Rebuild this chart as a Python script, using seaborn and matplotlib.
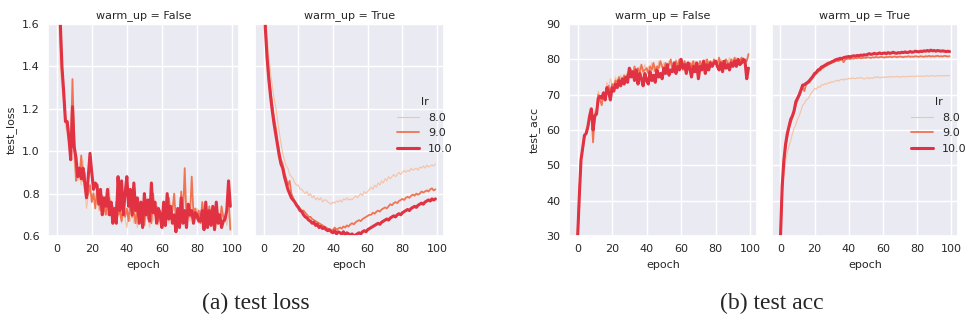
import numpy as np
import pandas as pd
import seaborn as sns
import matplotlib.pyplot as plt

# learning rates and warm-up settings
lrs = [8.0, 9.0, 10.0]
warm_ups = [False, True]
epochs = list(range(100))

# test loss, warm_up = False
loss_nowarm_8 = [2.0, 1.7, 1.40, 1.30, 1.22, 1.12, 1.08, 1.03, 0.98, 1.10, 0.95, 0.87, 0.86, 0.89, 0.84, 0.96, 0.84, 0.73, 0.79, 0.82,
                 0.78, 0.81, 0.74, 0.78, 0.72, 0.80, 0.75, 0.71, 0.77, 0.73, 0.83, 0.70, 0.74, 0.68, 0.73, 0.69, 0.71, 0.66, 0.72, 0.68,
                 0.64, 0.70, 0.67, 0.72, 0.66, 0.69, 0.64, 0.71, 0.67, 0.70, 0.66, 0.72, 0.68, 0.64, 0.70, 0.67, 0.73, 0.68, 0.65, 0.69,
                 0.67, 0.71, 0.64, 0.69, 0.66, 0.74, 0.68, 0.65, 0.70, 0.66, 0.71, 0.67, 0.74, 0.68, 0.65, 0.70, 0.67, 0.72, 0.66, 0.69,
                 0.73, 0.66, 0.70, 0.64, 0.69, 0.67, 0.71, 0.65, 0.70, 0.66, 0.69, 0.64, 0.70, 0.67, 0.72, 0.66, 0.69, 0.65, 0.70, 0.67]
loss_nowarm_9 = [2.1, 1.8, 1.55, 1.38, 1.27, 1.15, 1.12, 1.05, 1.00, 1.34, 1.05, 0.86, 0.90, 0.88, 0.98, 0.86, 0.90, 0.78, 0.80, 0.84,
                 0.76, 0.80, 0.73, 0.82, 0.77, 0.72, 0.79, 0.74, 0.70, 0.77, 0.78, 0.70, 0.74, 0.68, 0.76, 0.70, 0.72, 0.67, 0.74, 0.69,
                 0.73, 0.67, 0.77, 0.69, 0.72, 0.66, 0.74, 0.70, 0.68, 0.72, 0.65, 0.75, 0.68, 0.71, 0.66, 0.80, 0.70, 0.74, 0.67, 0.72,
                 0.70, 0.65, 0.74, 0.68, 0.78, 0.69, 0.72, 0.80, 0.67, 0.72, 0.66, 0.81, 0.70, 0.92, 0.68, 0.74, 0.69, 0.88, 0.70, 0.73,
                 0.68, 0.72, 0.66, 0.76, 0.69, 0.71, 0.65, 0.74, 0.68, 0.72, 0.66, 0.73, 0.70, 0.66, 0.74, 0.69, 0.67, 0.73, 0.78, 0.63]
loss_nowarm_10 = [2.2, 1.85, 1.62, 1.40, 1.28, 1.14, 1.14, 1.06, 0.96, 1.21, 1.02, 0.97, 0.88, 0.92, 0.87, 0.92, 0.85, 0.78, 0.88, 0.99,
                  0.90, 0.82, 0.85, 0.84, 0.75, 0.82, 0.70, 0.78, 0.74, 0.82, 0.70, 0.76, 0.66, 0.73, 0.66, 0.88, 0.72, 0.86, 0.70, 0.80,
                  0.88, 0.74, 0.82, 0.70, 0.85, 0.72, 0.78, 0.66, 0.76, 0.64, 0.80, 0.70, 0.77, 0.67, 0.85, 0.71, 0.76, 0.66, 0.73, 0.70,
                  0.64, 0.76, 0.65, 0.80, 0.68, 0.74, 0.66, 0.70, 0.62, 0.73, 0.64, 0.78, 0.66, 0.72, 0.64, 0.75, 0.70, 0.72, 0.66, 0.71,
                  0.70, 0.67, 0.67, 0.72, 0.63, 0.76, 0.64, 0.72, 0.65, 0.74, 0.63, 0.76, 0.66, 0.70, 0.64, 0.67, 0.68, 0.72, 0.86, 0.74]

# test loss, warm_up = True
loss_warm_8 = [1.95, 1.68, 1.55, 1.45, 1.37, 1.31, 1.25, 1.21, 1.15, 1.09, 1.04, 0.99, 0.96, 0.93, 0.92, 0.89, 0.88, 0.87, 0.85, 0.84,
               0.84, 0.82, 0.82, 0.81, 0.80, 0.81, 0.79, 0.80, 0.78, 0.79, 0.77, 0.78, 0.77, 0.78, 0.76, 0.77, 0.77, 0.76, 0.755, 0.75,
               0.76, 0.755, 0.765, 0.76, 0.77, 0.76, 0.775, 0.77, 0.78, 0.77, 0.775, 0.77, 0.78, 0.79, 0.78, 0.79, 0.80, 0.79, 0.81, 0.80,
               0.81, 0.82, 0.83, 0.82, 0.84, 0.83, 0.85, 0.84, 0.86, 0.85, 0.87, 0.86, 0.88, 0.87, 0.88, 0.89, 0.88, 0.89, 0.90, 0.89,
               0.90, 0.91, 0.90, 0.91, 0.905, 0.92, 0.91, 0.915, 0.92, 0.91, 0.925, 0.92, 0.93, 0.92, 0.935, 0.925, 0.93, 0.935, 0.93, 0.94]
loss_warm_9 = [1.9, 1.6, 1.47, 1.37, 1.29, 1.22, 1.16, 1.11, 1.05, 1.00, 0.96, 0.94, 0.90, 0.87, 0.84, 0.86, 0.80, 0.78, 0.76, 0.75,
               0.74, 0.73, 0.72, 0.72, 0.71, 0.70, 0.69, 0.69, 0.68, 0.675, 0.67, 0.665, 0.66, 0.655, 0.65, 0.645, 0.64, 0.635, 0.63, 0.625,
               0.63, 0.64, 0.63, 0.635, 0.64, 0.635, 0.645, 0.64, 0.65, 0.645, 0.655, 0.66, 0.655, 0.665, 0.67, 0.675, 0.67, 0.68, 0.685, 0.69,
               0.695, 0.70, 0.70, 0.71, 0.705, 0.715, 0.72, 0.715, 0.725, 0.73, 0.735, 0.73, 0.74, 0.75, 0.745, 0.755, 0.76, 0.755, 0.765, 0.77,
               0.775, 0.77, 0.78, 0.785, 0.78, 0.79, 0.795, 0.79, 0.80, 0.795, 0.80, 0.81, 0.805, 0.81, 0.815, 0.81, 0.82, 0.825, 0.815, 0.82]
loss_warm_10 = [1.9, 1.58, 1.44, 1.34, 1.26, 1.19, 1.13, 1.08, 1.03, 0.98, 0.94, 0.92, 0.88, 0.85, 0.82, 0.80, 0.78, 0.77, 0.76, 0.745,
                0.735, 0.72, 0.715, 0.70, 0.69, 0.685, 0.675, 0.67, 0.66, 0.665, 0.65, 0.655, 0.64, 0.645, 0.635, 0.64, 0.63, 0.625, 0.63, 0.62,
                0.615, 0.625, 0.61, 0.62, 0.615, 0.61, 0.62, 0.605, 0.615, 0.61, 0.605, 0.61, 0.60, 0.605, 0.61, 0.615, 0.61, 0.62, 0.625, 0.62,
                0.63, 0.635, 0.64, 0.645, 0.65, 0.655, 0.66, 0.655, 0.665, 0.67, 0.675, 0.68, 0.675, 0.685, 0.69, 0.695, 0.69, 0.70, 0.705, 0.70,
                0.71, 0.715, 0.72, 0.725, 0.72, 0.73, 0.735, 0.74, 0.735, 0.745, 0.75, 0.755, 0.75, 0.76, 0.765, 0.77, 0.765, 0.775, 0.77, 0.775]

# test acc, warm_up = False
acc_nowarm_8 = [30.5, 43, 50.5, 55.5, 57.5, 60, 62, 63, 64, 62, 65.5, 66, 71, 69.5, 68.5, 71, 70, 73.5, 72, 74.5,
                73, 72.5, 75, 73.5, 72, 75.5, 74, 75, 73.5, 76.5, 75, 77.5, 76, 74.5, 77, 76.5, 78, 75.5, 77, 78.5,
                76.5, 78, 77.5, 79, 76.5, 78, 77, 79.5, 78, 77.5, 79, 78, 77, 79.5, 78, 79, 77.5, 80, 78.5, 79,
                78, 79.5, 77.5, 79, 78.5, 77, 79, 78, 79.5, 78, 79, 77.5, 79, 78.5, 80, 78, 79.5, 78.5, 79, 80,
                78.5, 79.5, 78, 80, 79, 78.5, 80, 79, 80.5, 79, 80, 79, 80.5, 79.5, 80, 79, 80.5, 79.5, 80, 80.5]
acc_nowarm_9 = [30, 42, 52, 54.5, 58, 59.5, 60.5, 63.5, 65, 56.5, 64.5, 65, 70, 68.5, 67, 70, 69.5, 71.5, 72.5, 70,
                73, 72.5, 74, 73.5, 75, 73, 74, 75.5, 74, 76, 76, 77, 75.5, 78, 76, 77.5, 76, 78.5, 76.5, 77,
                77.5, 76, 78, 77, 79, 76.5, 78, 77.5, 79.5, 78, 77, 79, 77.5, 78.5, 80, 77, 78.5, 79.5, 78, 80,
                78.5, 77, 79.5, 78, 77.5, 79, 78, 79.5, 77, 78.5, 78, 79.5, 77.5, 79, 78, 80, 78.5, 79.5, 78, 80,
                79, 78.5, 80.5, 78, 79.5, 78.5, 80, 79, 78.5, 80, 79, 80.5, 79, 80, 79.5, 80.5, 79, 80, 79.5, 81.5]
acc_nowarm_10 = [29, 41, 51.5, 55, 58.5, 59, 61, 64, 66, 60, 64, 64.5, 69, 69.5, 69, 70.5, 68.5, 72, 70.8, 68.5,
                 72, 71, 73, 72, 74, 72.5, 74.5, 73, 75, 73.5, 77.5, 75, 76.5, 74, 77, 73, 76, 74.5, 72.5, 76,
                 74, 73, 76.5, 74, 75.5, 73.5, 77, 75, 76, 74.5, 77.5, 76, 78.5, 75.5, 77, 76.5, 79, 76, 78, 77,
                 80, 77.5, 78.5, 76, 79, 77.5, 75, 78, 76.5, 79, 74.5, 78, 77, 79.5, 76, 78.5, 77, 79, 78, 79,
                 79.5, 78, 77, 79, 76.5, 79.5, 77.5, 78.5, 77, 79, 78, 79.5, 78, 80, 78.5, 79, 80, 79.5, 74.5, 77.5]

# test acc, warm_up = True
acc_warm_8 = [30.5, 40, 47, 51, 53.5, 55.5, 57, 59, 60.5, 61.5, 63, 64, 65.5, 67, 67.5, 68.5, 68.8, 69.5, 70.5, 71,
              71.8, 71.5, 72.3, 72, 72.8, 72.7, 73.1, 72.9, 73.4, 73.3, 73.7, 73.5, 73.9, 74.1, 73.8, 74.2, 74.4, 74.1, 74.5, 74.3,
              74.6, 74.5, 74.8, 74.6, 74.5, 74.8, 74.6, 74.9, 74.7, 74.4, 74.6, 74.9, 74.5, 74.8, 74.6, 75, 74.8, 75.1, 74.7, 74.9,
              75, 74.8, 75.1, 74.9, 75.2, 74.9, 75.1, 75, 75.2, 74.9, 75.1, 75, 75.2, 75.1, 75, 75.2, 75.1, 75.3, 75.1, 75.2,
              75.3, 75.2, 75.3, 75.1, 75.3, 75.2, 75.4, 75.2, 75.3, 75.4, 75.3, 75.2, 75.4, 75.3, 75.4, 75.3, 75.4, 75.3, 75.4, 75.4]
acc_warm_9 = [30, 43, 50.5, 55, 58, 60.5, 62, 63.5, 65, 67, 68.5, 69.5, 70.8, 72.2, 71, 72.8, 73.2, 73.5, 74.2, 74.8,
              75.5, 76, 76.5, 76.8, 77.3, 77.6, 78, 78.2, 78.5, 78.8, 79, 79.2, 79.4, 79.6, 79.5, 79.8, 79.9, 79.2, 80, 80.1,
              80.2, 80.1, 80.3, 80.2, 80.4, 80.3, 80.5, 80.3, 80.4, 80.5, 80.4, 80.6, 80.5, 80.4, 80.6, 80.5, 80.7, 80.5, 80.6, 80.7,
              80.6, 80.5, 80.7, 80.6, 80.8, 80.6, 80.7, 80.8, 80.6, 80.7, 80.8, 80.7, 80.6, 80.8, 80.7, 80.9, 80.7, 80.8, 80.7, 80.9,
              80.8, 80.7, 80.9, 80.8, 80.7, 80.9, 80.8, 81, 80.8, 80.9, 80.8, 80.9, 81, 80.8, 80.9, 80.8, 81, 80.9, 80.8, 80.9]
acc_warm_10 = [29.5, 44, 51.5, 56, 59, 61, 63, 64, 65.5, 68, 69, 70, 71.3, 72.7, 72.8, 73.2, 73.5, 74, 74.6, 75.2,
               76, 76.3, 77, 77.2, 77.8, 78, 78.3, 78.6, 78.9, 79, 79.3, 79.5, 79.8, 80, 80.1, 80.3, 80.2, 80.5, 80.6, 80.7,
               80.8, 80.7, 80.9, 81, 80.9, 81.1, 81, 81.2, 81.1, 81.3, 81.2, 81.4, 81.6, 81.4, 81.5, 81.7, 81.5, 81.6, 81.8, 81.6,
               81.7, 81.8, 81.6, 81.9, 81.7, 81.8, 82, 81.8, 81.7, 81.9, 81.8, 82, 81.9, 82.1, 81.9, 82, 82.2, 82, 82.1, 82.3,
               82.2, 82.1, 82.3, 82.2, 82.4, 82.3, 82.5, 82.3, 82.6, 82.4, 82.5, 82.3, 82.5, 82.4, 82.3, 82.4, 82.3, 82.2, 82.3, 82.2]

loss_series = {False: [loss_nowarm_8, loss_nowarm_9, loss_nowarm_10],
               True: [loss_warm_8, loss_warm_9, loss_warm_10]}
acc_series = {False: [acc_nowarm_8, acc_nowarm_9, acc_nowarm_10],
              True: [acc_warm_8, acc_warm_9, acc_warm_10]}


def build_frame():
    """Stack all series into one long dataframe."""
    rows = []
    for wu in warm_ups:
        for lr, loss, acc in zip(lrs, loss_series[wu], acc_series[wu]):
            rows.append(pd.DataFrame({"epoch": epochs, "test_loss": loss, "test_acc": acc,
                                      "lr": lr, "warm_up": wu}))
    return pd.concat(rows, ignore_index=True)


df = build_frame()

sns.set_theme(style="darkgrid")
fs = 8
plt.rcParams.update({"font.size": fs, "axes.labelsize": fs, "axes.titlesize": fs,
                     "xtick.labelsize": fs, "ytick.labelsize": fs,
                     "legend.fontsize": fs, "legend.title_fontsize": fs,
                     "xtick.major.size": 2.5, "ytick.major.size": 2.5})

palette = {8.0: "#f6c2a5", 9.0: "#f17452", 10.0: "#e03242"}
sizes = {8.0: 0.8, 9.0: 1.3, 10.0: 2.2}

W, H = 965, 323
fig = plt.figure(figsize=(W / 100, H / 100), dpi=100)


def px_axes(left, top, width, height):
    return fig.add_axes([left / W, 1 - (top + height) / H, width / W, height / H])


panels = [
    ("test_loss", (0.6, 1.6), np.arange(0.6, 1.61, 0.2), [(48, 239), (255, 444)], (387, 87)),
    ("test_acc", (30, 90), np.arange(30, 91, 10), [(569, 757), (772, 958)], (901, 87)),
]

for metric, ylim, yticks, spans, leg_px in panels:
    first = None
    for (x0, x1), wu in zip(spans, warm_ups):
        ax = px_axes(x0, 24, x1 - x0, 212)
        sub = df[df["warm_up"] == wu]
        sns.lineplot(data=sub, x="epoch", y=metric, hue="lr", size="lr",
                     palette=palette, sizes=sizes, ax=ax,
                     legend="full" if wu else False)
        ax.set_ylim(*ylim)
        ax.set_yticks(yticks)
        ax.set_xticks([0, 20, 40, 60, 80, 100])
        ax.set_title(f"warm_up = {wu}", pad=4)
        if first is None:
            first = ax
        else:
            ax.set_ylabel("")
            ax.tick_params(labelleft=False)
        if wu:
            sns.move_legend(ax, "upper left", bbox_to_anchor=(leg_px[0] / W, 1 - leg_px[1] / H),
                            bbox_transform=fig.transFigure, frameon=False, title="lr")

fig.text(256 / W, 1 - 303 / H, "(a) test loss", ha="center", va="center",
         family="Liberation Serif", fontsize=17)
fig.text(772 / W, 1 - 303 / H, "(b) test acc", ha="center", va="center",
         family="Liberation Serif", fontsize=17)

fig.savefig("out.png", dpi=100, facecolor="white")
